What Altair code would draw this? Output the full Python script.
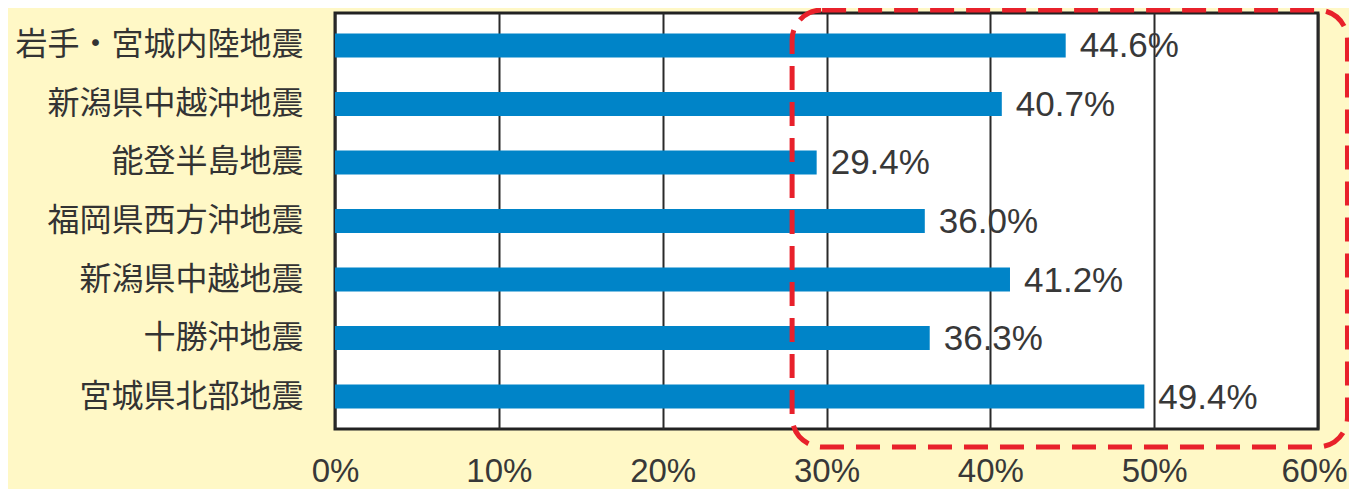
import altair as alt
import pandas as pd

categories = ["岩手・宮城内陸地震", "新潟県中越沖地震", "能登半島地震", "福岡県西方沖地震",
              "新潟県中越地震", "十勝沖地震", "宮城県北部地震"]
values = [44.6, 40.7, 29.4, 36.0, 41.2, 36.3, 49.4]
labels = ["44.6%", "40.7%", "29.4%", "36.0%", "41.2%", "36.3%", "49.4%"]
tick_values = [0, 10, 20, 30, 40, 50, 60]

# highlighted range (in % units on the x scale)
highlight_from = [27.9]
highlight_to = [61.8]

df = pd.DataFrame({"name": categories, "value": values, "label": labels})
hl = pd.DataFrame({"x1": highlight_from, "x2": highlight_to})

xscale = alt.Scale(domain=[0, 60], nice=False, zero=True)
yscale = alt.Scale(paddingInner=0.59, paddingOuter=0.35)

x_axis = alt.Axis(values=tick_values, labelExpr="datum.value + '%'", title=None,
                  grid=True, gridColor="#2a2a2a", gridWidth=2, domain=False, ticks=False,
                  labelFontSize=33, labelFont="Liberation Sans", labelColor="#383838",
                  labelPadding=52, labelBaseline="alphabetic", labelFlush=False,
                  labelOffset={"condition": {"test": "datum.value == 60", "value": -4},
                               "value": 0})
y_axis = alt.Axis(title=None, domain=False, ticks=False, labelFontSize=32,
                  labelFont="Noto Sans CJK JP", labelColor="#333333", labelPadding=32,
                  labelLimit=400)

bars = alt.Chart(df).mark_bar(color="#0084C8").encode(
    x=alt.X("value:Q", scale=xscale, axis=x_axis),
    y=alt.Y("name:N", sort=categories, scale=yscale, axis=y_axis),
)

text = alt.Chart(df).mark_text(align="left", baseline="middle", dx=14, dy=1,
                               fontSize=35, font="Liberation Sans", color="#383838").encode(
    x=alt.X("value:Q", scale=xscale),
    y=alt.Y("name:N", sort=categories, scale=yscale),
    text="label:N",
)

box = alt.Chart(hl).mark_rect(filled=False, stroke="#E8212B", strokeWidth=5,
                              strokeDash=[24, 12], cornerRadius=30, clip=False).encode(
    x=alt.X("x1:Q", scale=xscale),
    x2="x2:Q",
    y=alt.value(-3),
    y2=alt.value(434),
)

chart = alt.layer(bars, text, box).properties(
    width=983, height=416,
    background="#FFF8C6",
    autosize=alt.AutoSizeParams(type="none"),
    padding={"left": 327, "top": 5, "right": 31, "bottom": 60},
).configure_view(stroke="#222222", strokeWidth=3, fill="white")

chart.save("out.html", embed_options={"renderer": "svg", "actions": False})
